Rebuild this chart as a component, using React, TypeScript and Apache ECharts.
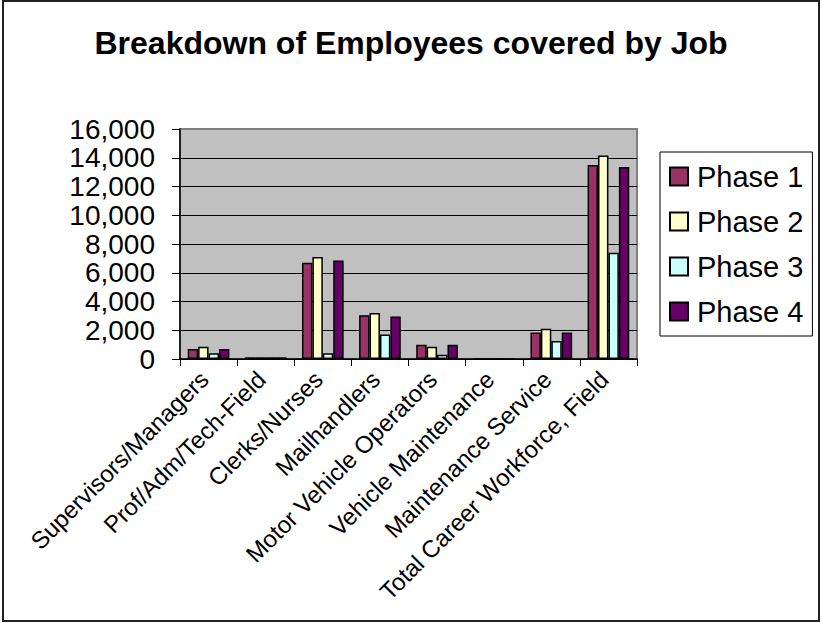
import React, { useEffect, useRef } from "react";
import * as echarts from "echarts";

const categories = [
  "Supervisors/Managers",
  "Prof/Adm/Tech-Field",
  "Clerks/Nurses",
  "Mailhandlers",
  "Motor Vehicle Operators",
  "Vehicle Maintenance",
  "Maintenance Service",
  "Total Career Workforce, Field",
];

const phase1 = [700, 120, 6700, 3050, 1000, 0, 1850, 13500];
const phase2 = [850, 120, 7100, 3200, 850, 0, 2100, 14150];
const phase3 = [400, 120, 400, 1700, 300, 0, 1250, 7400];
const phase4 = [700, 120, 6850, 2950, 1000, 0, 1850, 13350];

const seriesNames = ["Phase 1", "Phase 2", "Phase 3", "Phase 4"];
const seriesColors = ["#993366", "#FFFFCC", "#CCFFFF", "#660066"];
const seriesData = [phase1, phase2, phase3, phase4];

const FONT = 'Arial, "Liberation Sans", sans-serif';

export default function App() {
  const ref = useRef<HTMLDivElement>(null);

  useEffect(() => {
    if (!ref.current) return;
    const chart = echarts.init(ref.current, undefined, { renderer: "svg" });
    chart.setOption({
      animation: false,
      backgroundColor: "#ffffff",
      title: {
        text: "Breakdown of Employees covered by Job",
        left: "center",
        top: 27,
        padding: 0,
        textStyle: { fontFamily: FONT, fontSize: 32, fontWeight: "bold", color: "#000" },
      },
      graphic: [
        {
          type: "rect",
          shape: { x: 3, y: 1, width: 816, height: 620 },
          style: { fill: "none", stroke: "#222", lineWidth: 2 },
          silent: true,
        },
      ],
      legend: {
        orient: "vertical",
        left: 660,
        top: 152,
        padding: [10, 9, 10, 9],
        itemGap: 16,
        itemWidth: 18,
        itemHeight: 18,
        borderColor: "#000",
        borderWidth: 1,
        icon: "rect",
        textStyle: { fontFamily: FONT, fontSize: 29, color: "#000", padding: [0, 0, 0, 4] },
        data: seriesNames,
      },
      grid: {
        left: 180,
        right: 185,
        top: 129,
        bottom: 264,
        show: true,
        backgroundColor: "#C0C0C0",
        borderColor: "#808080",
        borderWidth: 2,
      },
      xAxis: {
        type: "category",
        data: categories,
        boundaryGap: true,
        axisLine: { lineStyle: { color: "#000", width: 1.5 } },
        axisTick: { show: true, length: 7, lineStyle: { color: "#000" } },
        axisLabel: {
          interval: 0,
          rotate: 45,
          margin: 12,
          padding: [0, 6, 11, 0],
          fontFamily: FONT,
          fontSize: 24,
          color: "#000",
        },
      },
      yAxis: {
        type: "value",
        min: 0,
        max: 16000,
        interval: 2000,
        axisLine: { show: true, lineStyle: { color: "#000", width: 1.5 } },
        axisTick: { show: true, length: 8, lineStyle: { color: "#000" } },
        axisLabel: {
          margin: 25,
          fontFamily: FONT,
          fontSize: 28,
          color: "#000",
          formatter: (v: number) => v.toLocaleString("en-US"),
        },
        splitLine: { show: true, showMaxLine: false, lineStyle: { color: "#000", width: 1 } },
      },
      series: seriesNames.map((name, i) => ({
        name,
        type: "bar",
        data: seriesData[i],
        barGap: "0%",
        barCategoryGap: "27%",
        itemStyle: { color: seriesColors[i], borderColor: "#000", borderWidth: 1.5 },
      })),
    });
    return () => chart.dispose();
  }, []);

  return (
    <div
      ref={ref}
      style={{ position: "absolute", left: 0, top: 0, width: 822, height: 623 }}
    />
  );
}
